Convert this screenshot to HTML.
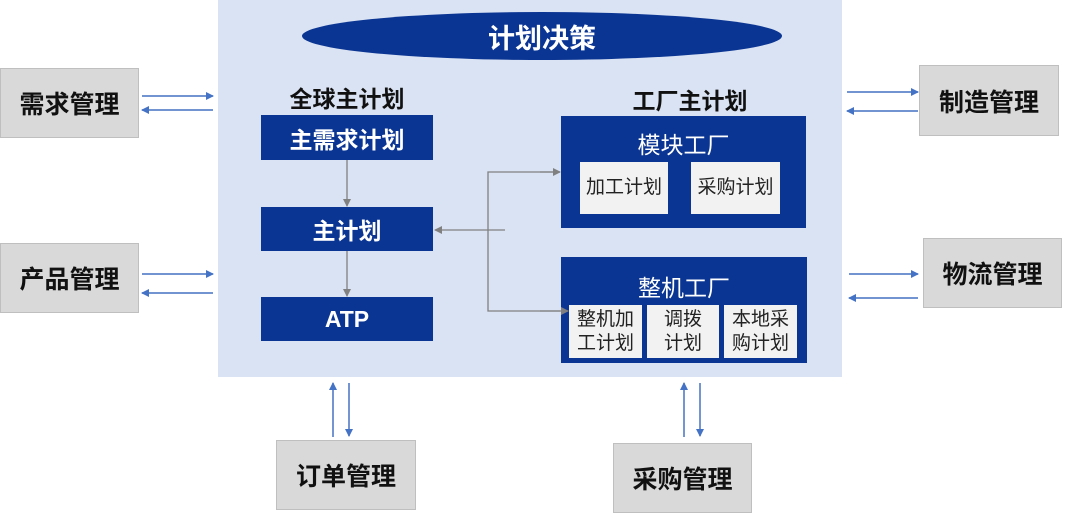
<!DOCTYPE html>
<html><head><meta charset="utf-8"><style>
body{margin:0;width:1080px;height:514px;background:#fff;position:relative;overflow:hidden;font-family:"Liberation Sans","Noto Sans CJK SC",sans-serif}
.a{position:absolute;box-sizing:border-box;display:flex;align-items:center;justify-content:center;text-align:center}
.g{background:#d9d9d9;border:1.5px solid #bfbfbf;font-weight:bold;font-size:25px;color:#111}
.b{background:#0b3593;color:#fff;font-weight:bold;font-size:23px}
.w{background:#f2f2f2;color:#222;font-size:19px;line-height:24px}
.t{font-weight:bold;font-size:23px;color:#111}
</style></head><body>
<div class="a" style="left:218px;top:0;width:624px;height:377px;background:#dae3f3"></div>
<div class="a" style="left:302px;top:12px;width:480px;height:48px;border-radius:50%;background:#0b3593;color:#fff;font-weight:bold;font-size:27px">计划决策</div>
<div class="a g" style="left:0;top:68px;width:139px;height:70px">需求管理</div>
<div class="a g" style="left:0;top:243px;width:139px;height:70px">产品管理</div>
<div class="a g" style="left:919px;top:65px;width:140px;height:71px">制造管理</div>
<div class="a g" style="left:923px;top:238px;width:139px;height:70px">物流管理</div>
<div class="a g" style="left:276px;top:440px;width:140px;height:70px">订单管理</div>
<div class="a g" style="left:613px;top:443px;width:139px;height:70px">采购管理</div>
<div class="a t" style="left:261px;top:82px;width:172px;height:30px">全球主计划</div>
<div class="a t" style="left:590px;top:84px;width:200px;height:30px">工厂主计划</div>
<div class="a b" style="left:261px;top:115px;width:172px;height:45px">主需求计划</div>
<div class="a b" style="left:261px;top:207px;width:172px;height:44px">主计划</div>
<div class="a b" style="left:261px;top:297px;width:172px;height:44px">ATP</div>
<div class="a b" style="left:561px;top:116px;width:245px;height:112px;align-items:flex-start;font-weight:normal;font-size:23px;padding-top:10px">模块工厂</div>
<div class="a w" style="left:580px;top:162px;width:88px;height:52px">加工计划</div>
<div class="a w" style="left:691px;top:162px;width:89px;height:52px">采购计划</div>
<div class="a b" style="left:561px;top:257px;width:246px;height:106px;align-items:flex-start;font-weight:normal;font-size:23px;padding-top:12px">整机工厂</div>
<div class="a w" style="left:569px;top:305px;width:73px;height:53px">整机加<br>工计划</div>
<div class="a w" style="left:647px;top:305px;width:72px;height:53px">调拨<br>计划</div>
<div class="a w" style="left:724px;top:305px;width:73px;height:53px">本地采<br>购计划</div>
<svg width="1080" height="514" style="position:absolute;left:0;top:0">
<defs>
<marker id="m" markerWidth="8" markerHeight="8" refX="7" refY="4" orient="auto" markerUnits="userSpaceOnUse"><path d="M0,0L8,4L0,8z" fill="#4472c4"/></marker>
<marker id="n" markerWidth="8" markerHeight="8" refX="7" refY="4" orient="auto" markerUnits="userSpaceOnUse"><path d="M0,0L8,4L0,8z" fill="#808080"/></marker>
</defs>
<g stroke="#4472c4" stroke-width="1.5" marker-end="url(#m)">
<line x1="142" y1="96" x2="213" y2="96"/><line x1="213" y1="110" x2="142" y2="110"/>
<line x1="142" y1="274" x2="213" y2="274"/><line x1="213" y1="293" x2="142" y2="293"/>
<line x1="847" y1="92" x2="918" y2="92"/><line x1="918" y1="111" x2="847" y2="111"/>
<line x1="849" y1="274" x2="918" y2="274"/><line x1="918" y1="298" x2="849" y2="298"/>
<line x1="333" y1="437" x2="333" y2="383"/><line x1="349" y1="383" x2="349" y2="436"/>
<line x1="684" y1="437" x2="684" y2="383"/><line x1="700" y1="383" x2="700" y2="436"/>
</g>
<g stroke="#808080" stroke-width="1.3" fill="none">
<line x1="347" y1="160" x2="347" y2="206" marker-end="url(#n)"/>
<line x1="347" y1="251" x2="347" y2="296" marker-end="url(#n)"/>
<line x1="505" y1="230" x2="435" y2="230" marker-end="url(#n)"/>
<polyline points="560,172 488,172 488,311 560,311"/>
<line x1="540" y1="172" x2="560" y2="172" marker-end="url(#n)"/>
<line x1="540" y1="311" x2="568" y2="311" marker-end="url(#n)"/>
</g>
</svg>
</body></html>
